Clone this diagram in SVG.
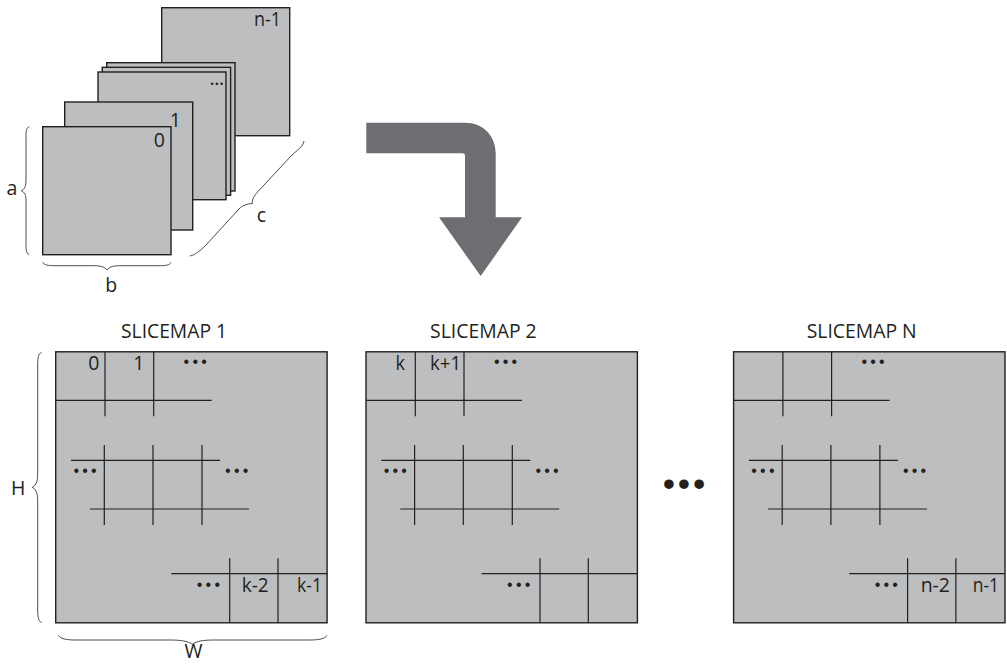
<svg xmlns="http://www.w3.org/2000/svg" xmlns:xlink="http://www.w3.org/1999/xlink" width="1007" height="669" viewBox="0 0 1007 669">
<style>
text{font-family:"Open Sans","Liberation Sans",sans-serif;font-size:19.5px;fill:#231f20}
.end{text-anchor:end}
.mid{text-anchor:middle}
.dots{font-family:"Liberation Sans",sans-serif;font-size:16px;letter-spacing:3.2px;text-anchor:middle}
.sheet{fill:#bcbec0;stroke:#231f20;stroke-width:1.4}
.rule{fill:none;stroke:#231f20;stroke-width:1.2}
.brace{fill:none;stroke:#231f20;stroke-width:.8}
</style>
<defs>
<g id="grid">
<rect class="sheet" x="55.7" y="351.8" width="271.4" height="271"/>
<path class="rule" d="M105 352V416.3M153.7 352V416.3M56 400.3H211.7M104.3 445V525M153 445V525M202 445V525M71 460.3H220M90 509H249M229.7 558.3V622.8M278 558.3V622.8M171.3 573.7H327"/>
<text class="dots" x="196.800" y="366.600">•••</text>
<text class="dots" x="86.600" y="475.600">•••</text>
<text class="dots" x="238.300" y="475.600">•••</text>
<text class="dots" x="210" y="589.600">•••</text>
</g>
</defs>
<g id="stack">
<g id="slice-n-1"><rect class="sheet" x="161.7" y="7.7" width="128" height="128"/><text x="254" y="26" textLength="27" lengthAdjust="spacingAndGlyphs">n-1</text></g>
<g id="slice-back"><rect class="sheet" x="106.7" y="62.7" width="128.3" height="128.3"/></g>
<g id="slice-mid"><rect class="sheet" x="102.3" y="67.3" width="128.3" height="128"/></g>
<g id="slice-dots"><rect class="sheet" x="98" y="72" width="128" height="127.7"/><text class="dots" style="font-size:9px;letter-spacing:1.600px" x="217.600" y="87">•••</text></g>
<g id="slice-1"><rect class="sheet" x="64.7" y="102" width="128" height="128"/><text class="end" x="180.800" y="127.300">1</text></g>
<g id="slice-0"><rect class="sheet" x="42.7" y="126.700" width="128.300" height="128"/><text class="end" x="165" y="146.700">0</text></g>
</g>
<g id="brace-a"><path class="brace" d="M29.300 126.700C25.500 128 26 133 26 140V180C26 186 25 189 21.300 190.700C25 192.500 26 195 26 201V241C26 249 25.500 253 29.300 254.700"/><text x="6.500" y="195">a</text></g>
<g id="brace-b"><path class="brace" d="M42.700 262.300C44 265 48 265.700 55 265.700H93C100 265.700 104.500 266.500 107 270C109.500 266.500 114 265.700 121 265.700H159C166 265.700 170 265 171 262.300"/><text class="mid" x="111.300" y="292.300">b</text></g>
<g id="brace-c"><path class="brace" d="M189.700 256C195 255 200 251 206 245L239 209C243 205 247 204 252.300 203.500C252 199 254 196 258 191.500L291 156C297 150 303 147 304 141"/><text class="mid" x="261.500" y="222.300">c</text></g>
<g id="connectors"><path fill="#6d6e71" d="M366.300 122.700H465C483 122.700 495.700 135.500 495.700 153.500V217.300H522L480.700 276L439 217.300H465V156C465 154 464 153.300 462 153.300H366.300Z"/></g>
<g id="slicemap-1"><text x="121" y="337.700" textLength="106" lengthAdjust="spacingAndGlyphs">SLICEMAP 1</text><use xlink:href="#grid" href="#grid"/>
<text class="end" x="99.500" y="370">0</text><text class="end" x="144.500" y="370">1</text><text x="241.700" y="591.700" textLength="27" lengthAdjust="spacingAndGlyphs">k-2</text><text x="297" y="591.700" textLength="25" lengthAdjust="spacingAndGlyphs">k-1</text></g>
<g id="brace-H"><path class="brace" d="M41.700 352.300C38 354 37.700 358 37.700 366V472C37.700 480 37 485 32.300 487.300C37 490 37.700 495 37.700 503V608C37.700 616 38 621 41.700 622.700"/><text x="11" y="495">H</text></g>
<g id="brace-W"><path class="brace" d="M58.300 635.300C60 638.500 66 640 75 640H170C180 640 188 641 192.300 644.300C196.500 641 204 640 214 640H310C320 640 325 638.500 327 635.300"/><text class="mid" x="193.500" y="658">W</text></g>
<g id="slicemap-2"><text x="430" y="337.700" textLength="106.700" lengthAdjust="spacingAndGlyphs">SLICEMAP 2</text><use xlink:href="#grid" href="#grid" transform="translate(310.300 0)"/>
<text x="395.500" y="370" textLength="9.500" lengthAdjust="spacingAndGlyphs">k</text><text x="430" y="370" textLength="31" lengthAdjust="spacingAndGlyphs">k+1</text></g>
<g id="ellipsis"><text class="dots" style="font-size:35px;letter-spacing:2.800px" x="685.400" y="496">•••</text></g>
<g id="slicemap-n"><text x="806.700" y="337.700" textLength="110" lengthAdjust="spacingAndGlyphs">SLICEMAP N</text><use xlink:href="#grid" href="#grid" transform="translate(677.900 0)"/>
<text x="920.700" y="591.700" textLength="29.300" lengthAdjust="spacingAndGlyphs">n-2</text><text x="972.700" y="591.700" textLength="26.300" lengthAdjust="spacingAndGlyphs">n-1</text></g>
</svg>
